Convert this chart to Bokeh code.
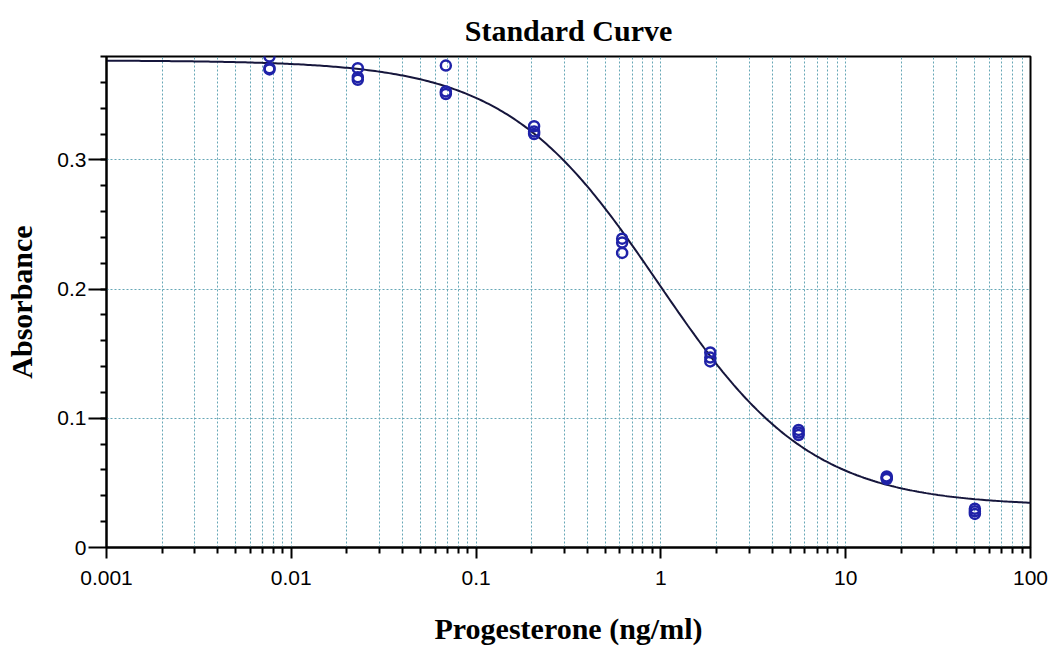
import numpy as np
from bokeh.plotting import figure
from bokeh.models import Range1d, FixedTicker, CustomJSTickFormatter, ColumnDataSource
from bokeh.embed import file_html
from bokeh.resources import INLINE

# Standard concentrations (ng/ml), three replicate wells each
conc = [0.00762, 0.0229, 0.0686, 0.206, 0.617, 1.85, 5.56, 16.67, 50.0]
rep1 = [0.380, 0.371, 0.373, 0.326, 0.239, 0.151, 0.091, 0.055, 0.030]
rep2 = [0.371, 0.364, 0.353, 0.322, 0.236, 0.147, 0.089, 0.054, 0.028]
rep3 = [0.370, 0.362, 0.351, 0.320, 0.228, 0.144, 0.087, 0.053, 0.026]

# Four-parameter logistic fit of the standards
fit_top = 0.377
fit_slope = 1.05
fit_ec50 = 0.97
fit_bottom = 0.032

x_major = [0.001, 0.01, 0.1, 1, 10, 100]
y_major = [0, 0.1, 0.2, 0.3]

x_minor = [m * d for d in x_major[:-1] for m in range(2, 10)]
y_minor = [round(0.02 * k, 2) for k in range(1, 20)]

xs = [c for c in conc for _ in range(3)]
ys = [v for trio in zip(rep1, rep2, rep3) for v in trio]
pts = ColumnDataSource(dict(x=xs, y=ys))

cx = np.logspace(-3, 2, 400)
cy = fit_bottom + (fit_top - fit_bottom) / (1 + (cx / fit_ec50) ** fit_slope)

p = figure(width=1052, height=647, x_axis_type="log",
           x_range=Range1d(0.001, 100), y_range=Range1d(0, 0.38),
           output_backend="svg", toolbar_location=None,
           min_border_left=106, min_border_right=22,
           min_border_top=56, min_border_bottom=100,
           background_fill_color="white", border_fill_color="white")

grid_color = "#66a7b6"

p.xaxis.ticker = FixedTicker(ticks=x_major, minor_ticks=x_minor)
p.yaxis.ticker = FixedTicker(ticks=y_major, minor_ticks=y_minor)
fmt = CustomJSTickFormatter(code="return tick.toString();")
p.xaxis.formatter = fmt
p.yaxis.formatter = fmt

p.xgrid.grid_line_color = grid_color
p.xgrid.grid_line_dash = "2 2"
p.xgrid.grid_line_width = 1
p.xgrid.minor_grid_line_color = grid_color
p.xgrid.minor_grid_line_dash = "2 2"
p.xgrid.minor_grid_line_width = 1
p.ygrid.grid_line_color = grid_color
p.ygrid.grid_line_dash = "2 2"
p.ygrid.grid_line_width = 1

for ax in (p.xaxis, p.yaxis):
    ax.axis_line_color = "black"
    ax.axis_line_width = 2
    ax.major_tick_line_color = "black"
    ax.minor_tick_line_color = "black"
    ax.major_tick_line_width = 2
    ax.minor_tick_line_width = 2
    ax.major_tick_in = 0
    ax.minor_tick_in = 0
    ax.major_label_text_font = "Liberation Sans"
    ax.major_label_text_font_size = "21px"
    ax.major_label_text_color = "black"
    ax.axis_label_text_font = "Liberation Serif"
    ax.axis_label_text_font_style = "bold"
    ax.axis_label_text_font_size = "30px"
    ax.axis_label_text_color = "black"

p.xaxis.major_tick_out = 11
p.xaxis.minor_tick_out = 6
p.xaxis.major_label_standoff = 12
p.xaxis.axis_label = "Progesterone (ng/ml)"
p.xaxis.axis_label_standoff = 24

p.yaxis.major_tick_out = 18
p.yaxis.minor_tick_out = 6
p.yaxis.major_label_standoff = 2
p.yaxis.axis_label = "Absorbance"
p.yaxis.axis_label_standoff = 16

p.outline_line_color = "black"
p.outline_line_width = 2

p.title.text = "Standard Curve"
p.title.align = "center"
p.title.text_font = "Liberation Serif"
p.title.text_font_style = "bold"
p.title.text_font_size = "30px"
p.title.text_color = "black"
p.title.standoff = 20

p.line(cx, cy, line_color="#16163c", line_width=2)
p.scatter("x", "y", source=pts, marker="circle", size=10,
          fill_color=None, line_color="#1f22a8", line_width=2.5)

open("out.html", "w").write(file_html(p, INLINE))
